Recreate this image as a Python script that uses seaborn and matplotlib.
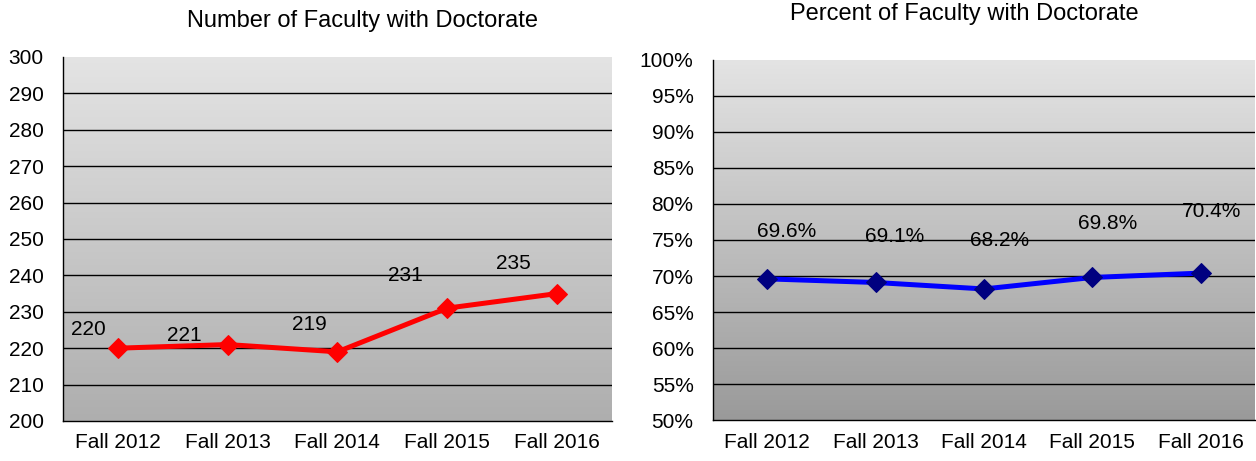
import matplotlib
matplotlib.use('Agg')

import matplotlib.pyplot as plt
from matplotlib.colors import LinearSegmentedColormap
from matplotlib.ticker import FixedLocator, FuncFormatter
import seaborn as sns
import numpy as np

# Datos
semestres = ['Fall 2012', 'Fall 2013', 'Fall 2014', 'Fall 2015', 'Fall 2016']
num_doctores = [220, 221, 219, 231, 235]
pct_doctores = [69.6, 69.1, 68.2, 69.8, 70.4]

# Desplazamiento de etiquetas (en píxeles), como las pone Excel
offs_num = [(-30, 19), (-43, 9), (-28, 27), (-42, 33), (-44, 30)]
offs_pct = [(19, 47), (19, 46), (16, 48), (15, 54), (11, 62)]

FS = 15

sns.set_style('white')
plt.rcParams['font.family'] = ['Liberation Sans', 'DejaVu Sans']
plt.rcParams['text.color'] = 'black'
plt.rcParams['xtick.color'] = 'black'
plt.rcParams['ytick.color'] = 'black'

fig = plt.figure(figsize=(12.56, 4.61), dpi=100)
ax1 = fig.add_axes([0.0502, 0.0868, 0.4369, 0.7896])
ax2 = fig.add_axes([0.5677, 0.0889, 0.4315, 0.7810])


def fondo(ax, top, bottom):
    cmap = LinearSegmentedColormap.from_list('g', [bottom, top])
    grad = np.linspace(0, 1, 256).reshape(-1, 1)
    ax.imshow(grad, extent=[0, 1, 0, 1], transform=ax.transAxes,
              aspect='auto', cmap=cmap, origin='lower', zorder=0)


def estilo(ax, ymin, ymax, paso, fmt):
    ax.set_xlim(-0.5, len(semestres) - 0.5)
    ax.set_ylim(ymin, ymax)
    ax.yaxis.set_major_locator(FixedLocator(np.arange(ymin, ymax + paso / 2, paso)))
    ax.yaxis.set_major_formatter(FuncFormatter(fmt))
    ax.xaxis.set_major_locator(FixedLocator(np.arange(-0.5, len(semestres), 1)))
    ax.xaxis.set_major_formatter(FuncFormatter(lambda v, p: ''))
    ax.xaxis.set_minor_locator(FixedLocator(range(len(semestres))))
    ax.set_xticklabels(semestres, minor=True)
    ax.tick_params(axis='x', which='minor', length=0, labelsize=FS, pad=9, labelcolor='black')
    ax.tick_params(axis='x', which='major', length=6, width=1, color='black', direction='out')
    ax.tick_params(axis='y', length=6, width=1, color='black', direction='out', labelsize=FS,
                   pad=8, labelcolor='black')
    for y in np.arange(ymin + paso, ymax - paso / 2, paso):
        ax.axhline(y, color='black', lw=1, zorder=1)
    for s in ['top', 'right']:
        ax.spines[s].set_visible(False)
    for s in ['left', 'bottom']:
        ax.spines[s].set_color('black')
        ax.spines[s].set_linewidth(1)
    ax.set_xlabel('')
    ax.set_ylabel('')


# Gráfico izquierdo: número
fondo(ax1, '#e4e4e4', '#aeaeae')
sns.lineplot(x=semestres, y=num_doctores, ax=ax1, color='#ff0000', lw=3.6,
             marker='D', markersize=10.5, markeredgecolor='#ff0000', zorder=3)
estilo(ax1, 200, 300, 10, lambda v, p: f'{v:.0f}')
for i, (v, (dx, dy)) in enumerate(zip(num_doctores, offs_num)):
    ax1.annotate(f'{v}', (i, v), xytext=(dx * 0.72, dy * 0.72), textcoords='offset points',
                 ha='center', va='center', fontsize=FS, color='black')
fig.text(0.289, 0.955, 'Number of Faculty with Doctorate', ha='center', va='center',
         fontsize=17, color='black')

# Gráfico derecho: porcentaje
fondo(ax2, '#e4e4e4', '#9a9a9a')
sns.lineplot(x=semestres, y=pct_doctores, ax=ax2, color='#0000ff', lw=3.6,
             marker='D', markersize=10.5, markeredgecolor='#000080',
             markerfacecolor='#000080', zorder=3)
estilo(ax2, 50, 100, 5, lambda v, p: f'{v:.0f}%')
for i, (v, (dx, dy)) in enumerate(zip(pct_doctores, offs_pct)):
    ax2.annotate(f'{v:.1f}%', (i, v), xytext=(dx * 0.72, dy * 0.72), textcoords='offset points',
                 ha='center', va='center', fontsize=FS, color='black')
fig.text(0.768, 0.970, 'Percent of Faculty with Doctorate', ha='center', va='center',
         fontsize=17, color='black')

fig.savefig('out.png', dpi=100)
plt.close(fig)
